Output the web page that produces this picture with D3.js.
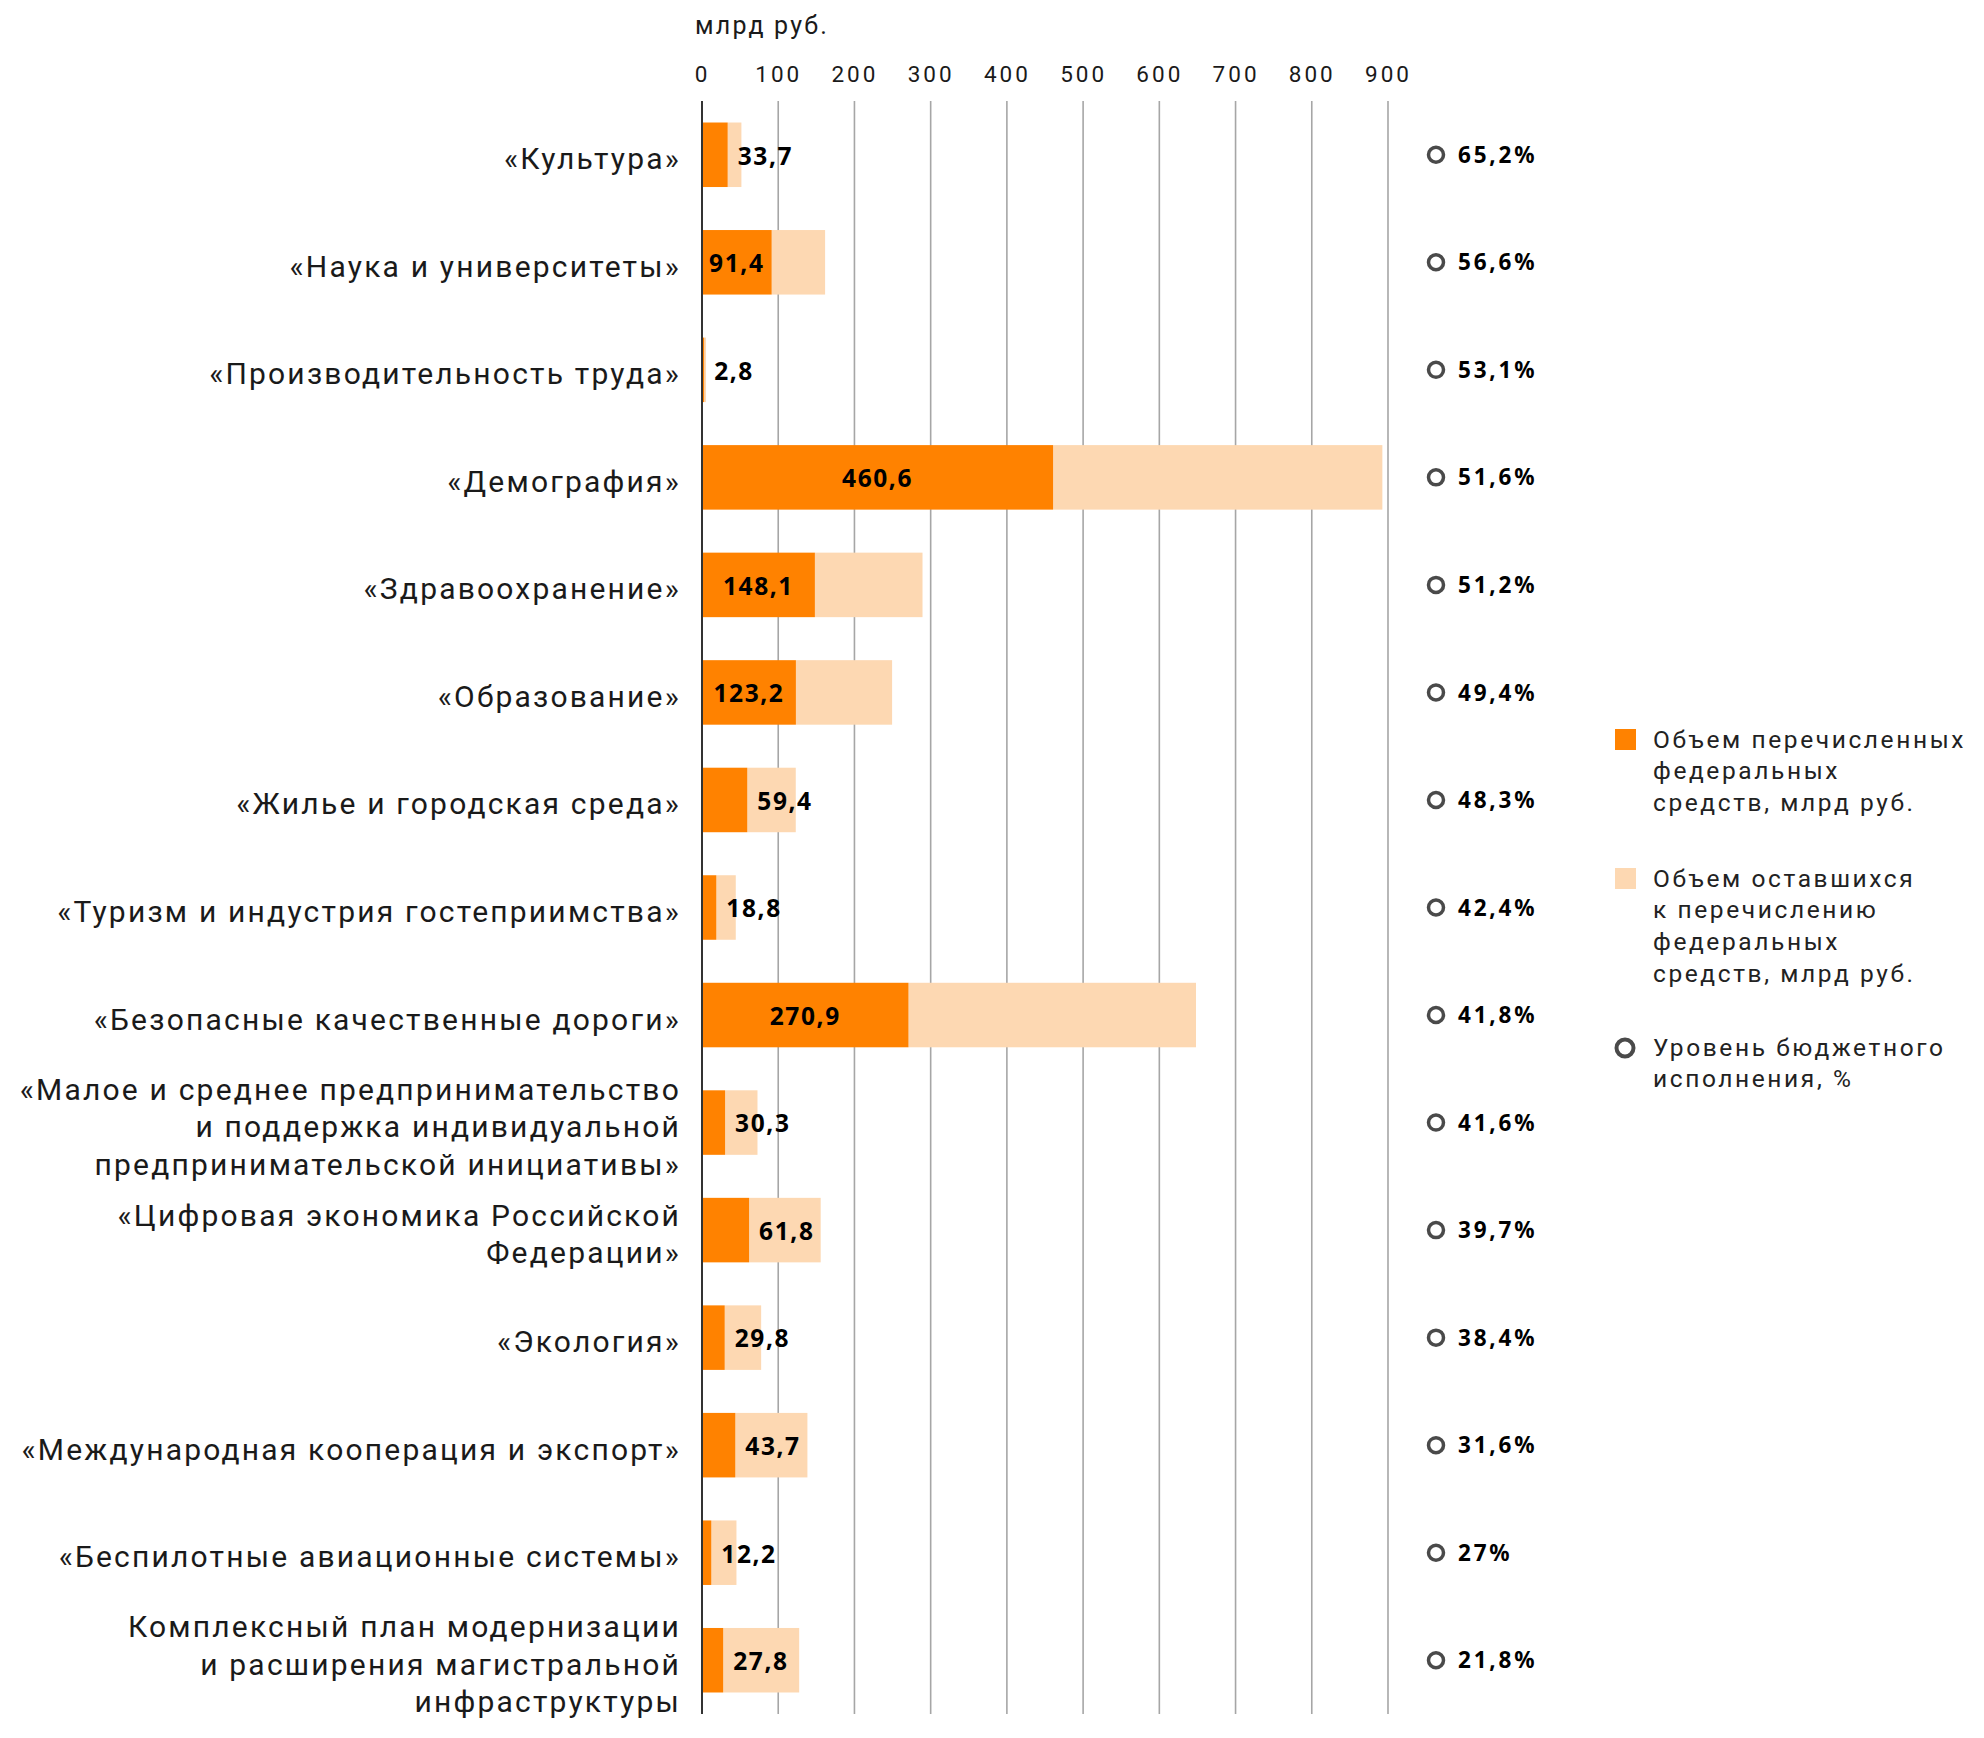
<!DOCTYPE html>
<html>
<head>
<meta charset="utf-8">
<script src="https://cdn.jsdelivr.net/npm/d3@7"></script>
<style>
  html, body { margin: 0; padding: 0; background: #fff; }
  svg { display: block; }
</style>
</head>
<body>
<div id="chart"></div>
<script>
// ---------- DATA ----------
const categories = [
  ["«Культура»"],
  ["«Наука и университеты»"],
  ["«Производительность труда»"],
  ["«Демография»"],
  ["«Здравоохранение»"],
  ["«Образование»"],
  ["«Жилье и городская среда»"],
  ["«Туризм и индустрия гостеприимства»"],
  ["«Безопасные качественные дороги»"],
  ["«Малое и среднее предпринимательство", "и поддержка индивидуальной", "предпринимательской инициативы»"],
  ["«Цифровая экономика Российской", "Федерации»"],
  ["«Экология»"],
  ["«Международная кооперация и экспорт»"],
  ["«Беспилотные авиационные системы»"],
  ["Комплексный план модернизации", "и расширения магистральной", "инфраструктуры"]
];
// transferred federal funds, bn rub
const transferred = [33.7, 91.4, 2.8, 460.6, 148.1, 123.2, 59.4, 18.8, 270.9, 30.3, 61.8, 29.8, 43.7, 12.2, 27.8];
// remaining to be transferred, bn rub
const remaining = [18.0, 70.1, 2.5, 432.0, 141.2, 126.2, 63.6, 25.5, 377.2, 42.5, 93.9, 47.8, 94.6, 33.0, 99.7];
// budget execution level, %
const execution = [65.2, 56.6, 53.1, 51.6, 51.2, 49.4, 48.3, 42.4, 41.8, 41.6, 39.7, 38.4, 31.6, 27, 21.8];
const xTicks = [0, 100, 200, 300, 400, 500, 600, 700, 800, 900];
const unitLabel = "млрд руб.";
const legendItems = [
  { type: "rect", key: "transferred", lines: ["Объем перечисленных", "федеральных", "средств, млрд руб."] },
  { type: "rect", key: "remaining", lines: ["Объем оставшихся", "к перечислению", "федеральных", "средств, млрд руб."] },
  { type: "circle", key: "execution", lines: ["Уровень бюджетного", "исполнения, %"] }
];

// ---------- STYLE ----------
const W = 1984, H = 1738;
const colors = { transferred: "#ff8200", remaining: "#fdd8b2", marker: "#4a4a4a", grid: "#a6a6a6", zero: "#333", text: "#1a1a1a" };
const FONT = "Roboto, 'Open Sans', sans-serif";
const BOLD = "'Noto Sans', 'Open Sans', sans-serif";

const ru = d3.formatLocale({ decimal: ",", thousands: " ", grouping: [3], currency: ["", " руб."] });
const fmt = v => ru.format(",.1f")(v).replace(/,0$/, "");
const fmtPct = v => (Number.isInteger(v) ? String(v) : ru.format(".1f")(v)) + "%";

const svg = d3.select("#chart").append("svg").attr("width", W).attr("height", H);

const x = d3.scaleLinear().domain([0, 900]).range([702, 1388]);
const y = d3.scaleBand().domain(d3.range(categories.length)).range([101, 1714]).paddingInner(0.4).paddingOuter(0.2);

// gridlines
const grid = svg.append("g");
grid.selectAll("line").data(xTicks).join("line")
  .attr("x1", d => x(d)).attr("x2", d => x(d))
  .attr("y1", 101).attr("y2", 1714)
  .attr("stroke", d => d === 0 ? colors.zero : colors.grid)
  .attr("stroke-width", d => d === 0 ? 2 : 1.6);

// top axis labels
const axis = svg.append("g").attr("transform", "translate(0,82)")
  .call(d3.axisTop(x).tickValues(xTicks).tickSize(0).tickPadding(0).tickFormat(d => String(d)));
axis.select(".domain").remove();
axis.selectAll("text")
  .attr("font-family", FONT).attr("font-size", 22.5).attr("letter-spacing", 3)
  .attr("fill", colors.text).attr("font-weight", 400);

svg.append("text").attr("x", 695).attr("y", 34).text(unitLabel)
  .attr("font-family", FONT).attr("font-size", 25).attr("letter-spacing", 2.2).attr("fill", colors.text);

// bars
const rows = categories.map((c, i) => ({ i, lines: c, t: transferred[i], r: remaining[i], p: execution[i] }));
const bars = svg.append("g");
bars.selectAll("rect.rem").data(rows).join("rect").attr("class", "rem")
  .attr("x", d => x(d.t)).attr("y", d => y(d.i))
  .attr("width", d => x(d.t + d.r) - x(d.t)).attr("height", y.bandwidth())
  .attr("fill", colors.remaining);
bars.selectAll("rect.tr").data(rows).join("rect").attr("class", "tr")
  .attr("x", x(0) + 1).attr("y", d => y(d.i))
  .attr("width", d => Math.max(0, x(d.t) - x(0) - 1)).attr("height", y.bandwidth())
  .attr("fill", colors.transferred);

// value labels
const vl = bars.selectAll("text.val").data(rows).join("text").attr("class", "val")
  .attr("y", d => y(d.i) + y.bandwidth() / 2 + 1)
  .attr("dy", "0.36em")
  .attr("font-family", BOLD).attr("font-weight", 700).attr("font-size", 24.5).attr("letter-spacing", 1.6)
  .attr("fill", "#000")
  .text(d => fmt(d.t));
vl.each(function (d) {
  const w = this.getComputedTextLength();
  const bw = x(d.t) - x(0);
  if (bw > w + 12) {
    d3.select(this).attr("x", (x(0) + x(d.t)) / 2).attr("text-anchor", "middle");
  } else {
    d3.select(this).attr("x", x(d.t) + 10).attr("text-anchor", "start");
  }
});

// category labels
const lineH = 37.5;
const cl = svg.append("g").selectAll("text").data(rows).join("text")
  .attr("text-anchor", "end")
  .attr("font-family", FONT).attr("font-size", 30).attr("letter-spacing", 2.2)
  .attr("fill", colors.text);
cl.each(function (d) {
  const n = d.lines.length;
  const cy = y(d.i) + y.bandwidth() / 2 + 4;
  d3.select(this).selectAll("tspan").data(d.lines).join("tspan")
    .attr("x", 681)
    .attr("y", (l, k) => cy + (k - (n - 1) / 2) * lineH)
    .attr("dy", "0.35em")
    .text(l => l);
});

// execution column
const pc = svg.append("g");
pc.selectAll("circle").data(rows).join("circle")
  .attr("cx", 1436).attr("cy", d => y(d.i) + y.bandwidth() / 2)
  .attr("r", 7.5).attr("fill", "#fff").attr("stroke", colors.marker).attr("stroke-width", 3.5);
pc.selectAll("text").data(rows).join("text")
  .attr("x", 1458).attr("y", d => y(d.i) + y.bandwidth() / 2).attr("dy", "0.36em")
  .attr("font-family", BOLD).attr("font-weight", 700).attr("font-size", 22.5).attr("letter-spacing", 2.8)
  .attr("fill", "#000")
  .text(d => fmtPct(d.p));

// legend
const legendY = [739, 878, 1047];
const lg = svg.append("g");
legendItems.forEach((it, k) => {
  const g = lg.append("g").attr("transform", `translate(0,${legendY[k]})`);
  if (it.type === "rect") {
    g.append("rect").attr("x", 1615).attr("y", -10).attr("width", 21).attr("height", 21).attr("fill", colors[it.key]);
  } else {
    g.append("circle").attr("cx", 1625).attr("cy", 1).attr("r", 8.5).attr("fill", "#fff")
      .attr("stroke", colors.marker).attr("stroke-width", 4);
  }
  g.append("text").attr("font-family", FONT).attr("font-size", 24.5).attr("letter-spacing", 2.6)
    .attr("fill", "#222")
    .selectAll("tspan").data(it.lines).join("tspan")
    .attr("x", 1653).attr("y", (l, j) => j * 31.7).attr("dy", "0.35em").text(l => l);
});
</script>
</body>
</html>
